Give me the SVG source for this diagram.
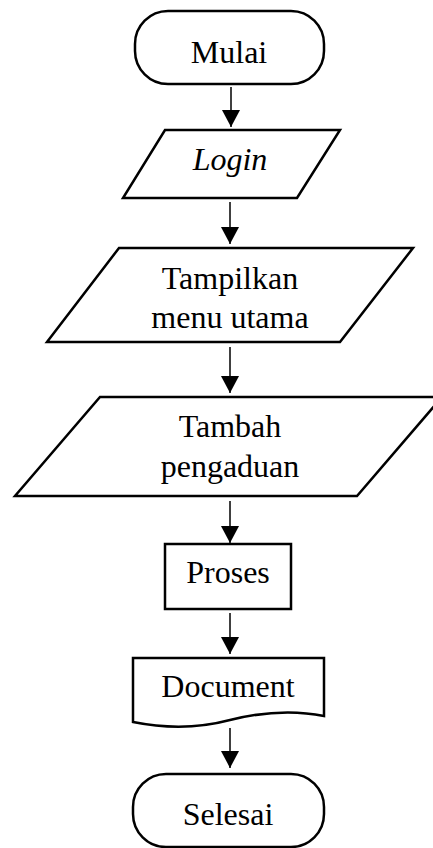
<svg xmlns="http://www.w3.org/2000/svg" width="433" height="848" viewBox="0 0 433 848">
  <style>
    .shape { fill: #ffffff; stroke: #000000; stroke-width: 2.5; stroke-linejoin: miter; }
    .label { font-family: "Liberation Serif", "Times New Roman", serif; font-size: 32px; fill: #000000; text-anchor: middle; }
    .flow { stroke: #000000; stroke-width: 1.5; fill: none; marker-end: url(#arrow); }
  </style>
  <defs>
    <marker id="arrow" markerUnits="userSpaceOnUse" markerWidth="18" markerHeight="18" viewBox="0 0 18 18" refX="17" refY="9" orient="auto">
      <path d="M0,0 L17,9 L0,18 Z" fill="#000000"/>
    </marker>
  </defs>
  <rect width="433" height="848" fill="#ffffff"/>

  <g id="connectors">
    <line class="flow" x1="231" y1="87" x2="231" y2="127"/>
    <line class="flow" x1="230" y1="202" x2="230" y2="244"/>
    <line class="flow" x1="230" y1="347" x2="230" y2="393"/>
    <line class="flow" x1="230" y1="501" x2="230" y2="543"/>
    <line class="flow" x1="230" y1="613" x2="230" y2="654"/>
    <line class="flow" x1="230" y1="728" x2="230" y2="768"/>
  </g>

  <g id="start">
    <rect class="shape" x="135" y="11" width="189" height="73" rx="33" ry="33"/>
    <text class="label" x="229" y="63">Mulai</text>
  </g>

  <g id="login">
    <polygon class="shape" points="165,130 340,130 297,198 123,198"/>
    <text class="label" x="230" y="170" font-style="italic">Login</text>
  </g>

  <g id="main-menu">
    <polygon class="shape" points="119,248 413,248 340,342 47,342"/>
    <text class="label" x="230" y="289">Tampilkan</text>
    <text class="label" x="230" y="328">menu utama</text>
  </g>

  <g id="add-complaint">
    <polygon class="shape" points="100,397 442,397 357,496 15,496"/>
    <text class="label" x="230" y="437">Tambah</text>
    <text class="label" x="230" y="477">pengaduan</text>
  </g>

  <g id="process">
    <rect class="shape" x="165" y="544" width="126" height="65"/>
    <text class="label" x="228" y="583">Proses</text>
  </g>

  <g id="document">
    <path class="shape" d="M133,658 H324 V716 C295,710 262,712 230,720 C200,728 168,729 133,722 Z"/>
    <text class="label" x="228" y="697">Document</text>
  </g>

  <g id="end">
    <rect class="shape" x="133" y="774" width="191" height="73" rx="33" ry="33"/>
    <text class="label" x="228" y="825">Selesai</text>
  </g>
</svg>
